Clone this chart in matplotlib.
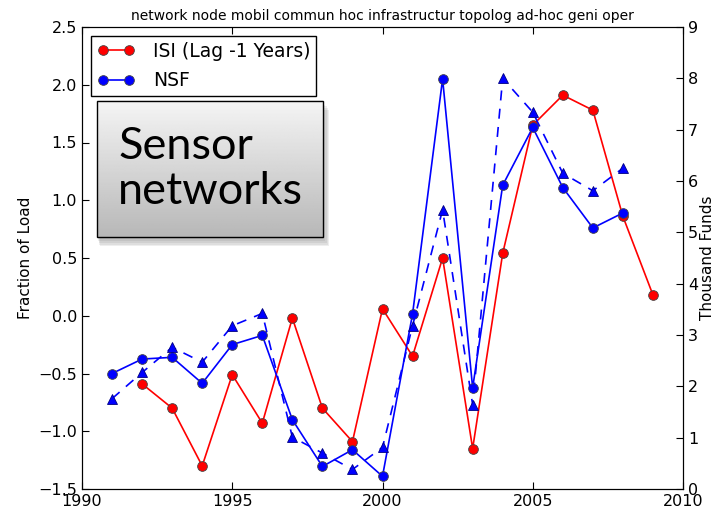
import matplotlib
matplotlib.use('Agg')
import matplotlib.pyplot as plt
import numpy as np
from matplotlib.patches import Rectangle

plt.rcParams['xtick.direction'] = 'in'
plt.rcParams['ytick.direction'] = 'in'
plt.rcParams['xtick.top'] = True

isi_years = [1992, 1993, 1994, 1995, 1996, 1997, 1998, 1999, 2000, 2001,
             2002, 2003, 2004, 2005, 2006, 2007, 2008, 2009]
isi_load = [-0.59, -0.80, -1.30, -0.51, -0.93, -0.02, -0.80, -1.09, 0.06, -0.35,
            0.50, -1.15, 0.54, 1.65, 1.91, 1.78, 0.86, 0.18]

nsf_years = [1991, 1992, 1993, 1994, 1995, 1996, 1997, 1998, 1999, 2000,
             2001, 2002, 2003, 2004, 2005, 2006, 2007, 2008]
nsf_load = [-0.50, -0.375, -0.36, -0.585, -0.25, -0.17, -0.90, -1.305, -1.16, -1.39,
            0.015, 2.05, -0.625, 1.13, 1.63, 1.11, 0.76, 0.89]
nsf_funds = [1.76, 2.27, 2.76, 2.47, 3.18, 3.42, 1.01, 0.70, 0.38, 0.81,
             3.18, 5.44, 1.64, 8.00, 7.34, 6.15, 5.81, 6.25]

title = 'network node mobil commun hoc infrastructur topolog ad-hoc geni oper'

fig = plt.figure(figsize=(7.16, 5.13), dpi=100)
ax = fig.add_axes([82 / 716, 24 / 513, 601 / 716, 462 / 513])
ax2 = ax.twinx()

ax.plot(isi_years, isi_load, '-o', color='red', markeredgecolor='#444444',
        markeredgewidth=0.6, markersize=7, linewidth=1.2,
        label='ISI (Lag -1 Years)', zorder=3)
ax.plot(nsf_years, nsf_load, '-o', color='blue', markeredgecolor='#444444',
        markeredgewidth=0.6, markersize=7, linewidth=1.2, label='NSF', zorder=3)
ax2.plot(nsf_years, nsf_funds, '--^', color='blue', markeredgecolor='#000080',
         markeredgewidth=0.6, markersize=7, linewidth=1.2, dashes=(6, 5))

ax.set_xlim(1990, 2010)
ax.set_ylim(-1.5, 2.5)
ax2.set_ylim(0, 9)
ax.set_xticks([1990, 1995, 2000, 2005, 2010])
ax.set_yticks(np.arange(-1.5, 2.51, 0.5))
ax2.set_yticks(range(0, 10))
ax.tick_params(labelsize=11.5, length=5)
ax2.tick_params(labelsize=11.5, length=5)
ax.set_ylabel('Fraction of Load', fontsize=11)
ax2.set_ylabel('Thousand Funds', fontsize=11, labelpad=1)
ax.set_title(title, fontsize=10, pad=5)

leg = ax.legend(loc='upper left', numpoints=2, fontsize=13.5, fancybox=False,
                framealpha=1, borderaxespad=0.5, handlelength=2.0,
                labelspacing=0.55, borderpad=0.3, handletextpad=1.0)
leg.get_frame().set_edgecolor('black')

# gradient box with soft shadow underneath
bx, by, bw, bh = 0.025, 0.545, 0.376, 0.295
for k in range(5, 0, -1):
    ax.add_patch(Rectangle((bx + 0.001 * k, by - 0.004 * k), bw + 0.001 * k, bh,
                           transform=ax.transAxes, facecolor='#444444',
                           edgecolor='none', alpha=0.09, zorder=4))
grad = np.linspace(0.96, 0.72, 100).reshape(-1, 1)
ax.imshow(grad, cmap='gray', vmin=0, vmax=1, aspect='auto',
          extent=[bx, bx + bw, by, by + bh], transform=ax.transAxes, zorder=5)
ax.add_patch(Rectangle((bx, by), bw, bh, transform=ax.transAxes,
                       facecolor='none', edgecolor='black', linewidth=1, zorder=6))
ax.text(bx + 0.035, by + bh / 2, 'Sensor\nnetworks', transform=ax.transAxes,
        fontsize=32.5, family='Lato', va='center', ha='left', linespacing=1.1, zorder=7)
ax.set_xlim(1990, 2010)
ax.set_ylim(-1.5, 2.5)

fig.savefig('out.png', dpi=100)
